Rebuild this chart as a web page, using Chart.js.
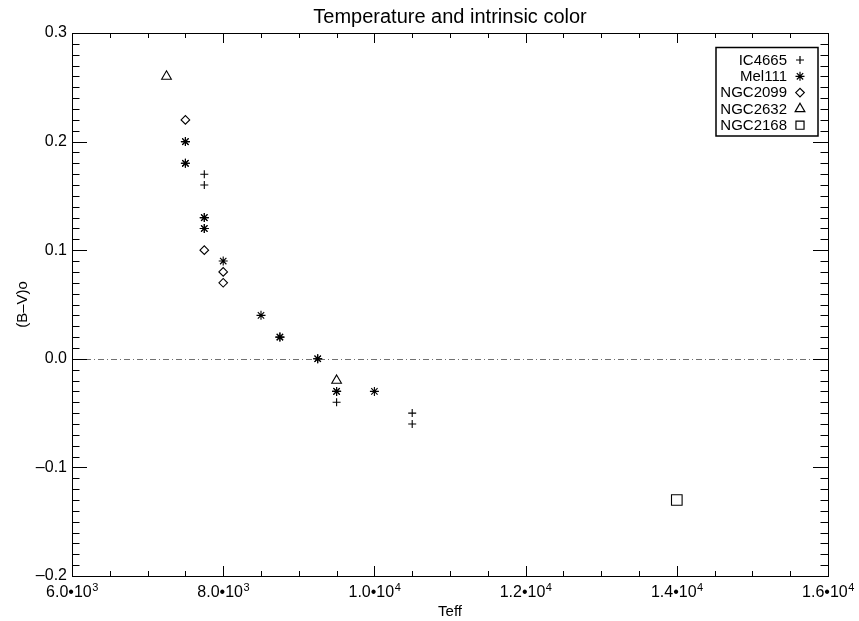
<!DOCTYPE html>
<html lang="en">
<head>
    <meta charset="UTF-8">
    <title>Temperature and intrinsic color</title>
    <script src="https://cdn.jsdelivr.net/npm/chart.js@4.4.0/dist/chart.umd.min.js"></script>
    <style>
        body { margin: 0; background: #fff; }
        canvas { display: block; }
    </style>
</head>
<body>
    <canvas id="chart" width="859" height="621"></canvas>
    <script>
        // cluster data: Teff vs (B-V)o
        const ic4665Teff = [7750, 7750, 9500, 10500, 10500];
        const ic4665BV   = [0.17, 0.16, -0.04, -0.05, -0.06];
        const mel111Teff = [7500, 7500, 7500, 7500, 7750, 7750, 7750, 7750, 8000, 8500, 8750, 8750, 9250, 9250, 9500, 9500, 10000];
        const mel111BV   = [0.20, 0.20, 0.18, 0.18, 0.13, 0.13, 0.12, 0.12, 0.09, 0.04, 0.02, 0.02, 0.00, 0.00, -0.03, -0.03, -0.03];
        const ngc2099Teff = [7500, 7750, 8000, 8000];
        const ngc2099BV   = [0.22, 0.10, 0.08, 0.07];
        const ngc2632Teff = [7250, 9500];
        const ngc2632BV   = [0.26, -0.02];
        const ngc2168Teff = [14000];
        const ngc2168BV   = [-0.13];

        const xTicks = [6000, 8000, 10000, 12000, 14000, 16000];
        const yTicks = [-0.2, -0.1, 0.0, 0.1, 0.2, 0.3];
        const chartTitle = 'Temperature and intrinsic color';

        const FONT = "'Liberation Sans', Arial, Helvetica, sans-serif";
        Chart.defaults.color = '#000';
        Chart.defaults.font.family = FONT;

        // 8000 -> ['8.0•10', '3']
        function sciParts(v) {
            const e = Math.floor(Math.log10(v) + 1e-9);
            const m = v / Math.pow(10, e);
            return [m.toFixed(1) + '\u2022' + '10', String(e)];
        }
        function zip(xs, ys) { return xs.map((x, i) => ({ x: x, y: ys[i] })); }

        const datasets = [
            { label: 'IC4665',  data: zip(ic4665Teff, ic4665BV),   pointStyle: 'cross',    pointRadius: 4 },
            { label: 'Mel111',  data: zip(mel111Teff, mel111BV),   pointStyle: 'star',     pointRadius: 4.5 },
            { label: 'NGC2099', data: zip(ngc2099Teff, ngc2099BV), pointStyle: 'rectRot',  pointRadius: 4.3 },
            { label: 'NGC2632', data: zip(ngc2632Teff, ngc2632BV), pointStyle: 'triangle', pointRadius: 5.6 },
            { label: 'NGC2168', data: zip(ngc2168Teff, ngc2168BV), pointStyle: 'rect',     pointRadius: 7.5 }
        ].map(d => Object.assign(d, {
            showLine: false,
            borderColor: '#000',
            backgroundColor: 'rgba(0,0,0,0)',
            pointBorderWidth: 1.1
        }));

        // dash-dot zero line
        const zeroLine = {
            id: 'zeroLine',
            beforeDatasetsDraw(chart) {
                const { ctx, chartArea: a, scales: { y } } = chart;
                const py = Math.round(y.getPixelForValue(0)) + 0.5;
                ctx.save();
                ctx.strokeStyle = '#707070';
                ctx.lineWidth = 1;
                ctx.setLineDash([6, 3, 1, 3]);
                ctx.beginPath();
                ctx.moveTo(a.left, py);
                ctx.lineTo(a.right, py);
                ctx.stroke();
                ctx.restore();
            }
        };

        // box frame with inward ticks on all four sides, x labels with superscripts, title
        const frame = {
            id: 'frame',
            afterDatasetsDraw(chart) {
                const { ctx, chartArea: a, scales: { x, y } } = chart;
                ctx.save();
                ctx.strokeStyle = '#000';
                ctx.lineWidth = 1;
                ctx.strokeRect(a.left + 0.5, a.top + 0.5, a.right - a.left, a.bottom - a.top);
                ctx.beginPath();
                for (let v = x.min; v <= x.max + 1e-6; v += 500) {
                    const px = Math.round(x.getPixelForValue(v)) + 0.5;
                    const len = (v % 2000 === 0) ? 10 : 5;
                    ctx.moveTo(px, a.bottom); ctx.lineTo(px, a.bottom - len);
                    ctx.moveTo(px, a.top); ctx.lineTo(px, a.top + len);
                }
                for (let i = 0; i <= 50; i++) {
                    const v = y.min + i * 0.01;
                    const py = Math.round(y.getPixelForValue(v)) + 0.5;
                    const len = (i % 10 === 0) ? 15 : 7.5;
                    ctx.moveTo(a.left, py); ctx.lineTo(a.left + len, py);
                    ctx.moveTo(a.right, py); ctx.lineTo(a.right - len, py);
                }
                ctx.stroke();

                ctx.fillStyle = '#000';
                ctx.textBaseline = 'alphabetic';
                ctx.textAlign = 'left';
                const base = a.bottom + 21;
                xTicks.forEach(v => {
                    const [main, ex] = sciParts(v);
                    ctx.font = '16px ' + FONT;
                    const w1 = ctx.measureText(main).width;
                    ctx.font = '11px ' + FONT;
                    const w2 = ctx.measureText(ex).width;
                    const x0 = x.getPixelForValue(v) - (w1 + w2) / 2;
                    ctx.font = '16px ' + FONT;
                    ctx.fillText(main, x0, base);
                    ctx.font = '11px ' + FONT;
                    ctx.fillText(ex, x0 + w1 + 0.5, base - 6.5);
                });

                ctx.font = '20px ' + FONT;
                ctx.textAlign = 'center';
                ctx.fillText(chartTitle, (a.left + a.right) / 2, 23);
                ctx.restore();
            }
        };

        // legend box in the upper right, text right-aligned with symbol after it
        const boxLegend = {
            id: 'boxLegend',
            afterDraw(chart) {
                const { ctx, chartArea: a } = chart;
                const right = a.right - 10, top = a.top + 14.5;
                const w = 102, h = 88.5;
                ctx.save();
                ctx.strokeStyle = '#000';
                ctx.lineWidth = 1.5;
                ctx.strokeRect(right - w, top, w, h);
                ctx.font = '15px ' + FONT;
                ctx.textAlign = 'right';
                ctx.textBaseline = 'middle';
                chart.data.datasets.forEach((ds, i) => {
                    const cy = top + 12.5 + i * 16.3;
                    ctx.fillStyle = '#000';
                    ctx.fillText(ds.label, right - 31, cy + 0.5);
                    const r = ds.pointStyle === 'rect' ? 5.7 : ds.pointRadius;
                    ctx.fillStyle = 'rgba(0,0,0,0)';
                    ctx.lineWidth = 1.2;
                    Chart.helpers.drawPoint(ctx, { pointStyle: ds.pointStyle, radius: r, rotation: 0, borderWidth: 1.2 }, right - 18, cy);
                    ctx.lineWidth = 1.5;
                });
                ctx.restore();
            }
        };

        new Chart(document.getElementById('chart'), {
            type: 'scatter',
            data: { datasets: datasets },
            options: {
                responsive: false,
                animation: false,
                events: [],
                layout: { padding: { left: 0, right: 31, top: 33, bottom: 0 } },
                plugins: {
                    legend: { display: false },
                    tooltip: { enabled: false },
                    title: { display: false }
                },
                scales: {
                    x: {
                        type: 'linear',
                        min: xTicks[0],
                        max: xTicks[xTicks.length - 1],
                        afterBuildTicks: s => { s.ticks = xTicks.map(v => ({ value: v })); },
                        afterFit: s => { s.height = 45; },
                        grid: { display: false, drawTicks: false },
                        border: { display: false },
                        ticks: { display: false },
                        title: {
                            display: true,
                            text: 'Teff',
                            font: { size: 15 },
                            padding: { top: 0, bottom: 0 }
                        }
                    },
                    y: {
                        type: 'linear',
                        min: yTicks[0],
                        max: yTicks[yTicks.length - 1],
                        afterBuildTicks: s => { s.ticks = yTicks.map(v => ({ value: v })); },
                        afterFit: s => { s.width = 72; },
                        grid: { display: false, drawTicks: false },
                        border: { display: false },
                        ticks: {
                            padding: 5,
                            font: { size: 16 },
                            callback: v => {
                                const r = Math.round(v * 10) / 10;
                                return (r < 0 ? '\u2013' : '') + Math.abs(r).toFixed(1);
                            }
                        },
                        title: {
                            display: true,
                            text: '(B\u2013V)o',
                            font: { size: 15 },
                            padding: { top: 14, bottom: 0 }
                        }
                    }
                }
            },
            plugins: [zeroLine, frame, boxLegend]
        });
    </script>
</body>
</html>
